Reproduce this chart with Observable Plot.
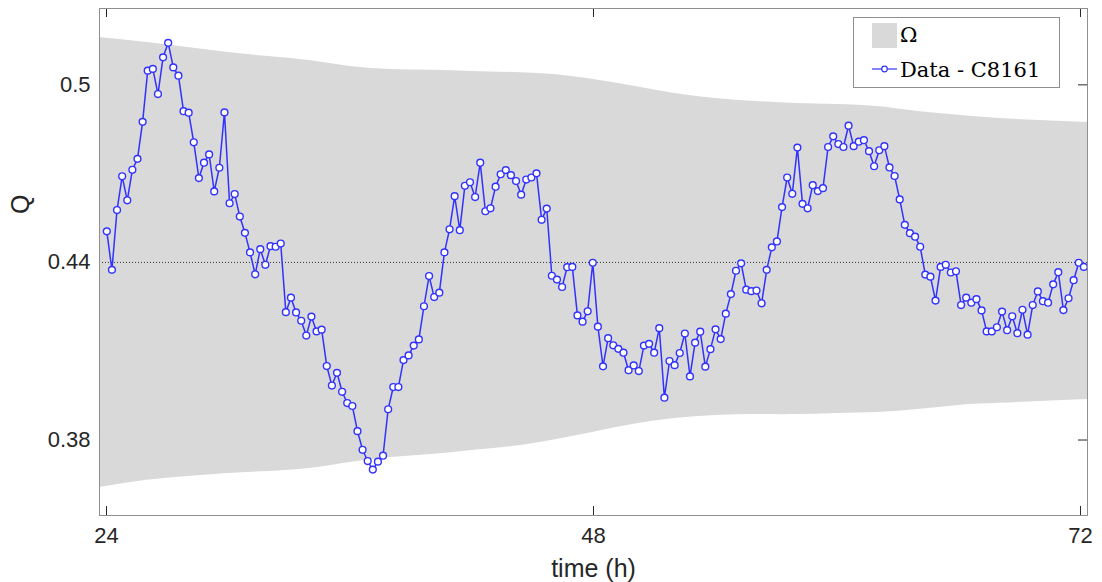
<!DOCTYPE html>
<html><head><meta charset="utf-8">
<script src="https://cdn.jsdelivr.net/npm/d3@7"></script>
<script src="https://cdn.jsdelivr.net/npm/@observablehq/plot@0.6"></script>
<style>body{margin:0;background:#fff}</style>
</head><body><div id="chart"></div>
<script>
// Observed Q values (Data - C8161), sampled on a regular time grid
const qValues = [
0.4505,0.4375,0.4577,0.4691,0.4610,0.4713,0.4750,0.4875,0.5048,0.5054,
0.4969,0.5093,0.5142,0.5059,0.5031,0.4911,0.4906,0.4806,0.4685,0.4737,
0.4765,0.4640,0.4720,0.4907,0.4600,0.4631,0.4555,0.4500,0.4434,0.4360,
0.4445,0.4392,0.4455,0.4453,0.4464,0.4232,0.4281,0.4231,0.4203,0.4153,
0.4217,0.4167,0.4173,0.4050,0.3984,0.4027,0.3963,0.3925,0.3915,0.3830,
0.3767,0.3729,0.3700,0.3727,0.3747,0.3904,0.3979,0.3979,0.4070,0.4086,
0.4119,0.4140,0.4252,0.4354,0.4283,0.4298,0.4434,0.4512,0.4624,0.4509,
0.4659,0.4671,0.4621,0.4737,0.4573,0.4583,0.4656,0.4698,0.4712,0.4695,
0.4675,0.4629,0.4680,0.4687,0.4701,0.4544,0.4582,0.4355,0.4342,0.4317,
0.4384,0.4385,0.4221,0.4200,0.4235,0.4399,0.4183,0.4049,0.4144,0.4120,
0.4108,0.4095,0.4036,0.4052,0.4033,0.4119,0.4125,0.4095,0.4178,0.3943,
0.4067,0.4053,0.4094,0.4160,0.4015,0.4129,0.4166,0.4048,0.4107,0.4174,
0.4141,0.4227,0.4293,0.4372,0.4397,0.4308,0.4303,0.4305,0.4262,0.4375,
0.4451,0.4471,0.4587,0.4687,0.4632,0.4788,0.4598,0.4583,0.4661,0.4641,
0.4651,0.4790,0.4826,0.4800,0.4790,0.4862,0.4793,0.4808,0.4813,0.4776,
0.4725,0.4779,0.4793,0.4721,0.4692,0.4613,0.4527,0.4499,0.4487,0.4453,
0.4359,0.4352,0.4271,0.4385,0.4392,0.4366,0.4370,0.4256,0.4281,0.4264,
0.4276,0.4238,0.4167,0.4167,0.4181,0.4234,0.4171,0.4218,0.4161,0.4240,
0.4156,0.4256,0.4302,0.4269,0.4264,0.4326,0.4367,0.4239,0.4279,0.4340,
0.4399,0.4385
];
const timeStart = 24.015;   // h, first sample
const timeStep = 0.2521;    // h, sampling interval

// Ω band (envelope)
const bandTimes = [23.655,26,28,30,32,34,36,38,40,42,44,46,48,50,52,54,56,58,60,62,64,66,68,70,72.345];
const bandUpper = [0.5160,0.5143,0.5126,0.5109,0.5096,0.5082,0.5062,0.5052,0.5049,0.5045,0.5042,0.5035,0.5018,0.4995,0.4971,0.4954,0.4944,0.4937,0.4934,0.4927,0.4910,0.4897,0.4886,0.4880,0.4873];
const bandLower = [0.3640,0.3664,0.3677,0.3687,0.3694,0.3704,0.3724,0.3741,0.3751,0.3765,0.3778,0.3799,0.3826,0.3853,0.3873,0.3883,0.3886,0.3886,0.3890,0.3893,0.3903,0.3917,0.3924,0.3930,0.3937];

const referenceQ = 0.44;
const xTicks = [24, 48, 72];
const xTickLabels = ["24", "48", "72"];
const yTicks = [0.38, 0.44, 0.5];
const yTickLabels = ["0.38", "0.44", "0.5"];
const xLabel = "time (h)";
const yLabel = "Q";
const legendLabels = ["Ω", "Data - C8161"];

const data = qValues.map((q, i) => ({t: timeStart + i * timeStep, q}));
const band = bandTimes.map((t, i) => ({t, hi: bandUpper[i], lo: bandLower[i]}));

const W = 1102, H = 582, mL = 99, mR = 15, mT = 8, mB = 67;
const fw = W - mL - mR, fh = H - mT - mB;
const blue = "#3232ff", ink = "#262626";
const sans = "'Liberation Sans', Arial, Helvetica, sans-serif";

const plot = Plot.plot({
  width: W, height: H,
  marginLeft: mL, marginRight: mR, marginTop: mT, marginBottom: mB,
  x: {domain: [23.655, 72.345]},
  y: {domain: [0.3545, 0.5258]},
  style: {fontFamily: sans, color: ink, background: "white", overflow: "visible"},
  marks: [
    Plot.tickX(xTicks, {insetTop: fh - 9, stroke: ink}),
    Plot.tickX(xTicks, {insetBottom: fh - 9, stroke: ink}),
    Plot.tickY(yTicks, {insetRight: fw - 9, stroke: ink}),
    Plot.tickY(yTicks, {insetLeft: fw - 9, stroke: ink}),
    Plot.areaY(band, {x: "t", y1: "lo", y2: "hi", fill: "#d9d9d9", curve: "natural"}),
    Plot.ruleY([referenceQ], {stroke: "#333", strokeWidth: 1, strokeDasharray: "1,2"}),
    Plot.line(data, {x: "t", y: "q", stroke: blue, strokeWidth: 1.5}),
    Plot.dot(data, {x: "t", y: "q", r: 3.4, fill: "white", stroke: blue, strokeWidth: 1.4}),
    Plot.frame({stroke: "#8f8f8f"}),
    Plot.axisX(xTicks, {tickSize: 0, tickPadding: 12, fontSize: 22, fill: ink, label: null,
      tickFormat: d => xTickLabels[xTicks.indexOf(d)]}),
    Plot.axisY(yTicks, {tickSize: 0, tickPadding: 9, fontSize: 22, fill: ink, label: null,
      tickFormat: d => yTickLabels[yTicks.indexOf(d)]}),
    Plot.text([xLabel], {frameAnchor: "bottom", dy: 53, fontSize: 25, fill: ink, lineAnchor: "middle"}),
    Plot.text([yLabel], {frameAnchor: "left", dx: -79, dy: -48, rotate: -90, fontSize: 25, fill: ink, lineAnchor: "middle"})
  ]
});

// Legend (inside the axes, top right)
const svg = d3.select(plot);
const lg = svg.append("g")
  .attr("font-family", "'DejaVu Serif', 'Liberation Serif', serif")
  .attr("text-anchor", "start")
  .attr("fill", "#000");
lg.append("rect").attr("x", 853.5).attr("y", 17.5).attr("width", 206).attr("height", 70)
  .attr("fill", "white").attr("stroke", "#8f8f8f");
lg.append("rect").attr("x", 872).attr("y", 23).attr("width", 25).attr("height", 25).attr("fill", "#d9d9d9");
lg.append("text").attr("x", 900).attr("y", 42).attr("font-size", 21)
  .style("text-anchor", "start").text(legendLabels[0]);
lg.append("line").attr("x1", 872).attr("x2", 897).attr("y1", 69).attr("y2", 69)
  .attr("stroke", blue).attr("stroke-width", 1.2);
lg.append("circle").attr("cx", 884.5).attr("cy", 69).attr("r", 2.8)
  .attr("fill", "white").attr("stroke", blue).attr("stroke-width", 1.2);
lg.append("text").attr("x", 900).attr("y", 76.5).attr("font-size", 21)
  .style("text-anchor", "start").text(legendLabels[1]);

document.getElementById("chart").appendChild(plot);
</script>
</body></html>
